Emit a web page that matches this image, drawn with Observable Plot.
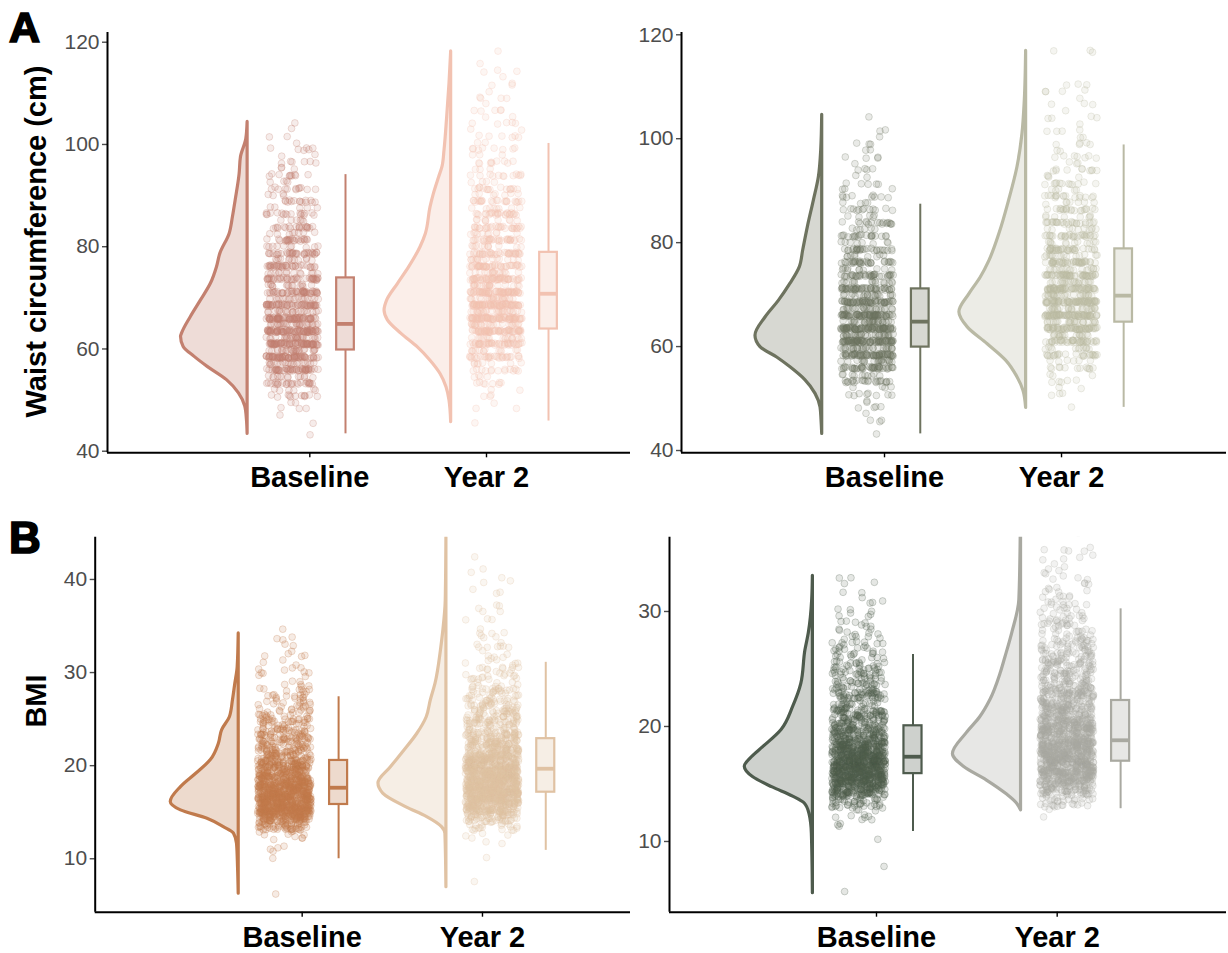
<!DOCTYPE html>
<html><head><meta charset="utf-8">
<script src="https://cdn.jsdelivr.net/npm/d3@7"></script>
<script src="https://cdn.jsdelivr.net/npm/@observablehq/plot@0.6"></script>
<style>
body{margin:0;background:#fff;}
#page{position:relative;width:1228px;height:953px;overflow:hidden;font-family:"Liberation Sans",Arial,sans-serif;}
.panel{position:absolute;}
.panel svg{overflow:visible;display:block;}
#labels{position:absolute;left:0;top:0;pointer-events:none;}
</style></head>
<body><div id="page">
<svg id="labels" width="1228" height="953" font-family="Liberation Sans, Arial, sans-serif">
<text x="9" y="41.7" font-size="43" font-weight="bold" fill="#000" stroke="#000" stroke-width="1.7">A</text>
<text x="9" y="552.7" font-size="44" font-weight="bold" fill="#000" stroke="#000" stroke-width="1.7">B</text>
<text transform="translate(46,241.5) rotate(-90)" text-anchor="middle" font-size="29" font-weight="bold" fill="#000">Waist circumference (cm)</text>
<text transform="translate(46,701) rotate(-90)" text-anchor="middle" font-size="29" font-weight="bold" fill="#000">BMI</text>
</svg>
</div>
<script>
// ---------- DATA ----------
const groups = ["Baseline", "Year 2"];
const waistTicks = [40, 60, 80, 100, 120];
const bmiTicksA = [10, 20, 30, 40];
const bmiTicksB = [10, 20, 30];

// Waist values sit on half-inch levels (cm)
const waistLevels = [43.2,44.5,45.7,47.0,48.3,49.5,50.8,52.1,53.3,54.6,55.9,57.2,58.4,59.7,61.0,62.2,63.5,64.8,66.0,67.3,
  68.6,69.9,71.1,72.4,73.7,74.9,76.2,77.5,78.7,80.0,81.3,82.6,83.8,85.1,86.4,87.6,88.9,90.2,91.4,92.7,
  94.0,95.3,96.5,97.8,99.1,100.3,101.6,102.9,104.1,105.4,106.7,108.0,109.2,110.5,111.8,113.0,114.3,115.6,116.8,118.1];
const waistCountsA_base = [1,0,1,1,3,2,12,6,26,13,50,20,68,26,78,28,80,26,70,22,58,18,48,15,40,13,37,12,33,10,
  24,8,20,6,17,5,14,4,12,4,10,3,6,2,6,1,2,1,1,0,0,0,0,0,0,0,0,0,0,0];
const waistCountsA_y2 = [0,0,1,0,2,1,3,2,8,4,14,8,30,13,46,18,64,25,78,28,78,26,68,22,56,17,46,15,38,12,
  32,10,29,9,26,8,22,7,16,4,12,3,9,3,8,2,6,2,5,2,5,1,4,1,3,1,3,1,0,1];
const waistCountsB_base = [1,0,3,1,4,2,8,4,22,10,42,20,62,28,80,30,82,28,72,24,60,20,48,15,36,11,30,9,26,8,
  20,6,17,5,12,4,9,3,5,2,4,1,4,2,3,1,2,0,1,0,0,0,0,0,0,0,0,0,0,0];
const waistCountsB_y2 = [0,0,0,0,1,0,3,2,5,3,12,6,24,12,42,18,62,24,76,28,74,26,64,22,54,18,44,15,36,12,
  30,10,26,8,20,7,16,5,12,4,10,3,7,2,5,2,4,1,4,1,3,1,4,3,0,0,0,0,3,0];

// BMI values: counts per 1-unit bin (lower bound)
const bmiBins = [5,6,7,8,9,10,11,12,13,14,15,16,17,18,19,20,21,22,23,24,25,26,27,28,29,30,31,32,33,34,35,36,37,38,39,40,41,42];
const bmiCountsA_base = [0,1,0,0,0,2,3,10,55,130,185,185,160,130,100,78,62,52,45,36,25,19,15,10,7,6,5,3,4,1,0,0,0,0,0,0,0,0];
const bmiCountsA_y2 = [0,0,1,0,0,1,2,4,20,60,120,160,180,175,150,120,95,75,60,50,42,36,28,22,16,12,9,7,5,4,3,3,2,3,2,2,1,1];
const bmiCountsB_base = [1,0,1,0,0,1,5,12,45,120,185,200,175,130,95,72,60,50,40,33,26,20,14,10,8,6,3,4,0,0,0,0,0,0,0,0,0,0];
const bmiCountsB_y2 = [0,0,0,0,0,0,0,2,30,80,130,160,170,155,135,110,90,75,62,52,45,38,30,24,18,14,10,8,6,5,5,2,0,0,0,0,0,0];

// Half-violin profiles (value, relative width)
const densWaistA_base_y = [104.4,101,97.5,94.2,89,85.8,82.5,78.6,76,72.8,69.5,66.3,63,62.4,60.4,58.5,56.5,53.9,51.3,48.7,46.1,43.4];
const densWaistA_base_w = [0,0.02,0.1,0.12,0.18,0.22,0.27,0.41,0.46,0.55,0.7,0.85,0.985,1,0.96,0.8,0.6,0.31,0.13,0.035,0.01,0];
const densWaistA_y2_y = [118.2,111.9,105.3,98.8,95.6,93.6,90.3,87.7,82.5,79.9,76,72.7,69.5,67.5,65.6,63,60.3,57.7,55.1,52.5,49.9,45.7];
const densWaistA_y2_w = [0,0.025,0.06,0.1,0.13,0.18,0.26,0.31,0.38,0.46,0.63,0.8,0.96,1,0.95,0.75,0.5,0.31,0.16,0.07,0.025,0];
const densWaistB_base_y = [104.6,97.7,92.6,88.1,83,78.5,75.3,72.1,68.8,65.6,62.1,59.9,57.9,56,53.5,50.9,48.3,45.8,43.2];
const densWaistB_base_w = [0,0.015,0.05,0.125,0.215,0.285,0.335,0.475,0.65,0.85,1,0.925,0.675,0.475,0.25,0.1,0.025,0.01,0];
const densWaistB_y2_y = [116.9,107.3,100.9,94.5,88.1,81.7,76.5,73.3,70.1,66.6,63.7,60.5,57.3,54.1,51.5,48.2];
const densWaistB_y2_w = [0,0.02,0.055,0.13,0.255,0.4,0.55,0.68,0.85,1,0.875,0.58,0.3,0.13,0.04,0];
const densBmiA_base_y = [34.2,30.6,28.8,27,25.2,23.8,22.4,20.6,19.1,17.7,16.1,15.2,14.3,13.4,12.7,11.6,9.1,6.24];
const densBmiA_base_w = [0,0.015,0.05,0.085,0.13,0.245,0.29,0.41,0.63,0.85,1,0.85,0.46,0.22,0.07,0.025,0.01,0];
const densBmiA_y2_y = [44.5,37.7,34.2,32.4,28.8,27,25.2,23.4,21.6,19.8,18.1,17,15.5,14.5,13.4,12.7,6.95];
const densBmiA_y2_w = [0,0.01,0.05,0.08,0.16,0.23,0.29,0.43,0.62,0.82,1,0.93,0.58,0.29,0.065,0.015,0];
const densBmiB_base_y = [33.1,31,28.1,26.6,23.7,21.7,19.7,18.2,17.3,16.5,15.6,14.7,13.9,13.3,12.4,10.7,5.5];
const densBmiB_base_w = [0,0.01,0.06,0.11,0.17,0.29,0.46,0.73,0.9,1,0.88,0.59,0.29,0.12,0.05,0.015,0];
const densBmiB_y2_y = [36.46,31,28.1,26,24.6,22.3,20.8,19.4,17.6,16.5,15.3,14.1,13.3,12.7];
const densBmiB_y2_w = [0.005,0.025,0.13,0.23,0.3,0.45,0.6,0.8,1,0.84,0.5,0.21,0.06,0];

// Box statistics [whisker low, Q1, median, Q3, whisker high]
const boxWaistA_base = [43.4, 59.8, 64.9, 73.9, 94.1];
const boxWaistA_y2 = [45.9, 63.9, 70.8, 78.9, 100.2];
const boxWaistB_base = [43.2, 59.9, 64.8, 71.1, 87.4];
const boxWaistB_y2 = [48.3, 64.7, 69.8, 78.8, 98.8];
const boxBmiA_base = [10.0, 15.83, 17.63, 20.56, 27.4];
const boxBmiA_y2 = [10.9, 17.15, 19.67, 22.9, 31.1];
const boxBmiB_base = [10.87, 15.9, 17.37, 20.06, 26.26];
const boxBmiB_y2 = [12.85, 16.98, 18.8, 22.26, 30.23];

// Colours
const colWaistA = ["#c3806f", "#f2c2b1"];
const colWaistB = ["#6e735f", "#b9b9a4"];
const colBmiA = ["#c07a4c", "#e0c2a3"];
const colBmiB = ["#4e5b4d", "#a9a9a1"];

// ---------- LAYOUT ----------
const VIOLIN_EDGE = [-0.352, -0.200];
const POINTS_CENTER = [-0.099, 0.053];
const BOX_CENTER = [0.202, 0.351];
const VIOLIN_WIDTH = 0.377;
const JITTER = 0.148;
const BOX_WIDTH = 0.1;
const FONT = "Liberation Sans, Arial, sans-serif";

// deterministic hash in [0,1) used for the jitter offsets of the dots (position only)
function hash01(i, seed) {
  let h = Math.imul(i + 0x9e3779b9, 0x85ebca6b) ^ Math.imul(seed + 7, 0xc2b2ae35);
  h ^= h >>> 16; h = Math.imul(h, 0x7feb352d);
  h ^= h >>> 15; h = Math.imul(h, 0x846ca68b);
  h ^= h >>> 16;
  return (h >>> 0) / 4294967296;
}

function expandLevels(levels, counts, cx, seed) {
  const out = []; let g = 0;
  levels.forEach((v, i) => {
    for (let k = 0; k < counts[i]; k++) {
      out.push({x: cx + (hash01(g, seed) - 0.5) * 2 * JITTER, y: v + (hash01(g, seed + 101) - 0.5) * 0.5});
      g++;
    }
  });
  return out;
}
function expandBins(bins, counts, cx, seed) {
  const out = []; let g = 0;
  bins.forEach((b, i) => {
    for (let k = 0; k < counts[i]; k++) {
      out.push({x: cx + (hash01(g, seed) - 0.5) * 2 * JITTER, y: b + hash01(g, seed + 101)});
      g++;
    }
  });
  return out;
}

function groupMarks(gi, color, densY, densW, pts, box) {
  const tick = gi + 1;
  const edge = tick + VIOLIN_EDGE[gi];
  const bc = tick + BOX_CENTER[gi];
  const dens = densY.map((y, i) => ({y, w: densW[i]}));
  const b = {lo: box[0], q1: box[1], med: box[2], q3: box[3], hi: box[4]};
  return [
    Plot.areaX(dens, {y: "y", x1: () => edge, x2: d => edge - d.w * VIOLIN_WIDTH,
      fill: color, fillOpacity: 0.28, stroke: color, strokeWidth: 3.2, strokeLinejoin: "round", curve: "monotone-y", clip: true}),
    Plot.dot(pts, {x: "x", y: "y", r: 3.4, fill: color, fillOpacity: 0.15, stroke: color, strokeOpacity: 0.26, strokeWidth: 1, clip: true}),
    Plot.ruleX([b], {x: () => bc, y1: "lo", y2: "q1", stroke: color, strokeWidth: 2}),
    Plot.ruleX([b], {x: () => bc, y1: "q3", y2: "hi", stroke: color, strokeWidth: 2}),
    Plot.rect([b], {x1: () => bc - BOX_WIDTH / 2, x2: () => bc + BOX_WIDTH / 2, y1: "q1", y2: "q3",
      fill: color, fillOpacity: 0.28, stroke: color, strokeWidth: 2.2}),
    Plot.ruleY([b], {y: "med", x1: () => bc - BOX_WIDTH / 2, x2: () => bc + BOX_WIDTH / 2, stroke: color, strokeWidth: 3.8})
  ];
}

function panel(cfg) {
  const marks = [];
  cfg.series.forEach((s, gi) => marks.push(...groupMarks(gi, s.color, s.densY, s.densW, s.pts, s.box)));
  marks.push(
    Plot.axisY(cfg.yTicks, {tickSize: 5, tickPadding: 3, fontSize: 21, color: "#4d4d4d", strokeWidth: 1.4, label: null}),
    Plot.axisX([1, 2], {tickFormat: d => groups[d - 1], tickSize: 5, tickPadding: 9, fontSize: 29, fontWeight: "bold", color: "#000", strokeWidth: 1.4, label: null}),
    Plot.ruleX([cfg.xDomain[0]], {stroke: "#000", strokeWidth: 2}),
    Plot.ruleY([cfg.yDomain[0]], {stroke: "#000", strokeWidth: 2})
  );
  const svg = Plot.plot({
    width: cfg.width, height: cfg.height,
    marginLeft: cfg.ml, marginRight: cfg.mr, marginTop: cfg.mt, marginBottom: cfg.mb,
    x: {type: "linear", domain: cfg.xDomain},
    y: {type: "linear", domain: cfg.yDomain},
    style: {fontFamily: FONT, background: "transparent", overflow: "visible"},
    marks
  });
  const div = document.createElement("div");
  div.className = "panel";
  div.style.left = cfg.left + "px";
  div.style.top = cfg.top + "px";
  div.appendChild(svg);
  document.getElementById("page").appendChild(div);
}

const cx = gi => gi + 1 + POINTS_CENTER[gi];

panel({left: 0, top: 0, width: 640, height: 500, ml: 107, mr: 10, mt: 32, mb: 47.7,
  xDomain: [-0.145, 2.815], yDomain: [39.69, 121.9], yTicks: waistTicks,
  series: [
    {color: colWaistA[0], densY: densWaistA_base_y, densW: densWaistA_base_w, pts: expandLevels(waistLevels, waistCountsA_base, cx(0), 1), box: boxWaistA_base},
    {color: colWaistA[1], densY: densWaistA_y2_y, densW: densWaistA_y2_w, pts: expandLevels(waistLevels, waistCountsA_y2, cx(1), 2), box: boxWaistA_y2}
  ]});

panel({left: 600, top: 0, width: 628, height: 500, ml: 81, mr: 2, mt: 32, mb: 47.7,
  xDomain: [-0.1469, 2.932], yDomain: [39.56, 120.44], yTicks: waistTicks,
  series: [
    {color: colWaistB[0], densY: densWaistB_base_y, densW: densWaistB_base_w, pts: expandLevels(waistLevels, waistCountsB_base, cx(0), 3), box: boxWaistB_base},
    {color: colWaistB[1], densY: densWaistB_y2_y, densW: densWaistB_y2_w, pts: expandLevels(waistLevels, waistCountsB_y2, cx(1), 4), box: boxWaistB_y2}
  ]});

panel({left: 0, top: 500, width: 640, height: 453, ml: 94.7, mr: 10, mt: 36.7, mb: 41.3,
  xDomain: [-0.148, 2.821], yDomain: [4.26, 44.54], yTicks: bmiTicksA,
  series: [
    {color: colBmiA[0], densY: densBmiA_base_y, densW: densBmiA_base_w, pts: expandBins(bmiBins, bmiCountsA_base, cx(0), 5), box: boxBmiA_base},
    {color: colBmiA[1], densY: densBmiA_y2_y, densW: densBmiA_y2_w, pts: expandBins(bmiBins, bmiCountsA_y2, cx(1), 6), box: boxBmiA_y2}
  ]});

panel({left: 600, top: 500, width: 628, height: 453, ml: 69, mr: 2, mt: 36.7, mb: 41.3,
  xDomain: [-0.1455, 2.937], yDomain: [3.85, 36.46], yTicks: bmiTicksB,
  series: [
    {color: colBmiB[0], densY: densBmiB_base_y, densW: densBmiB_base_w, pts: expandBins(bmiBins, bmiCountsB_base, cx(0), 7), box: boxBmiB_base},
    {color: colBmiB[1], densY: densBmiB_y2_y, densW: densBmiB_y2_w, pts: expandBins(bmiBins, bmiCountsB_y2, cx(1), 8), box: boxBmiB_y2}
  ]});
</script>
</body></html>
